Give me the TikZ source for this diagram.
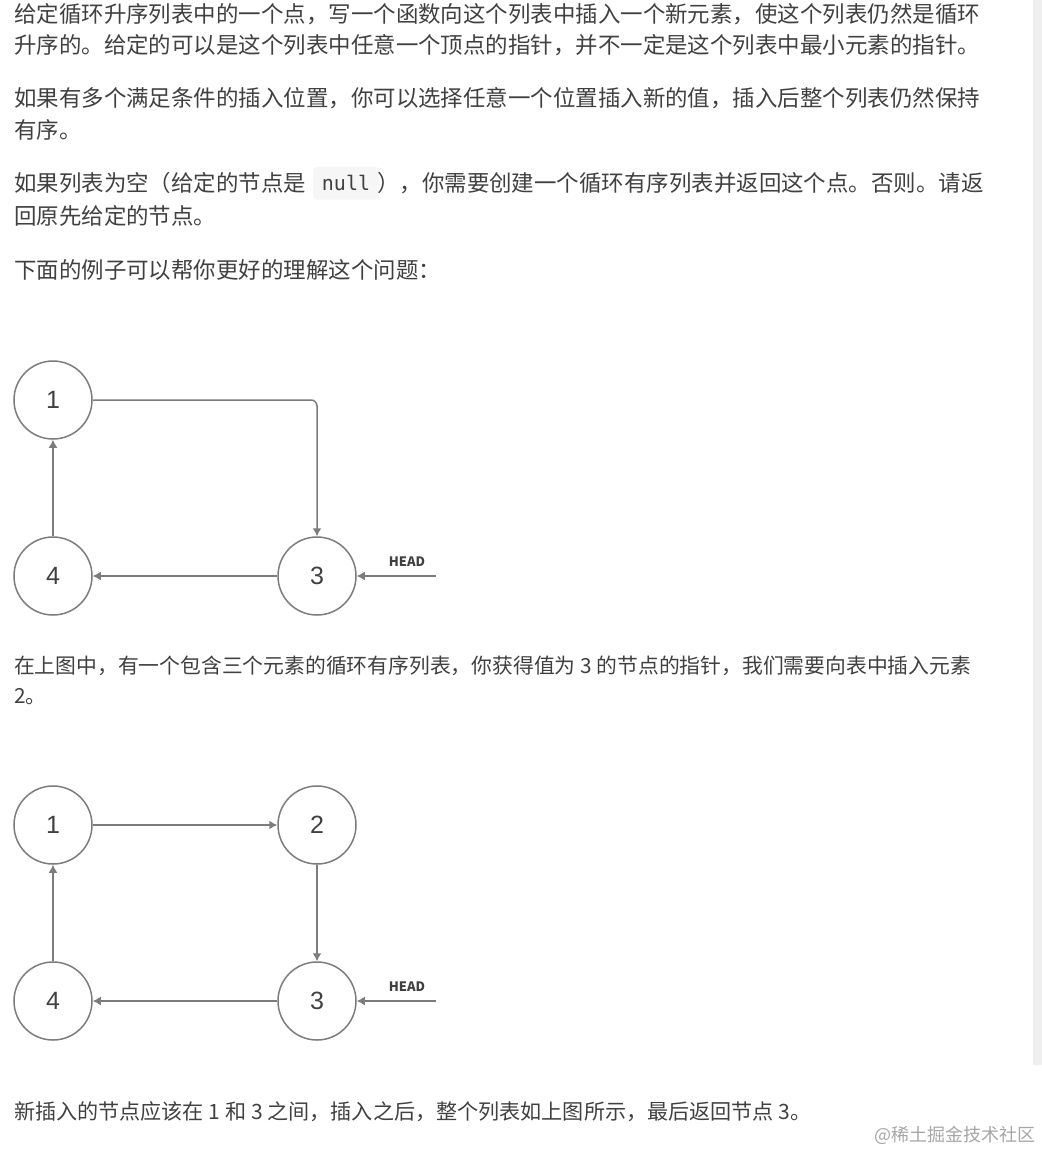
\documentclass[tikz,border=0pt]{standalone}
\usepackage{fontspec}
\setmainfont{Noto Sans CJK SC}
\setmonofont{DejaVu Sans Mono}
\newfontfamily\labelfont{Liberation Sans}
\definecolor{bodytext}{HTML}{404040}
\definecolor{linegray}{HTML}{7C7C7C}
\definecolor{codebg}{HTML}{F6F6F6}
\definecolor{barbg}{HTML}{EFEFEF}
\usetikzlibrary{arrows.meta}
\tikzset{
	para/.style={anchor=west, inner sep=0pt, text=bodytext, font=\fontsize{22.46}{26}\selectfont},
	narrowpara/.style={para, font=\fontsize{#1}{26}\selectfont},
	listnode/.style={circle, draw=linegray, line width=1.5pt, minimum size=78pt, inner sep=0pt, text=bodytext, font=\labelfont\fontsize{25}{28}\selectfont},
	link/.style={-{Latex[length=8pt,width=9pt]}, draw=linegray, line width=1.5pt},
	headlabel/.style={inner sep=0pt, text=bodytext, font=\fontsize{13}{15}\selectfont\bfseries},
}
\begin{document}
\begin{tikzpicture}[x=1pt, y=-1pt]
	
	\useasboundingbox (0,0) rectangle (1042,1152);
	\fill[barbg] (1033,0) rectangle (1042,1065);
	
	\node[para] (p1a) at (14,14) {给定循环升序列表中的一个点，写一个函数向这个列表中插入一个新元素，使这个列表仍然是循环};
	\node[para] (p1b) at (14,45) {升序的。给定的可以是这个列表中任意一个顶点的指针，并不一定是这个列表中最小元素的指针。};
	\node[para] (p2a) at (14,98) {如果有多个满足条件的插入位置，你可以选择任意一个位置插入新的值，插入后整个列表仍然保持};
	\node[para] (p2b) at (14,130) {有序。};
	\node[para] (p3a) at (14,183) {如果列表为空（给定的节点是};
	\node[fill=codebg, rounded corners=4pt, minimum width=66pt, minimum height=33pt, inner sep=0pt, text=bodytext, font=\fontsize{20}{24}\ttfamily] (nullcode) at (346,183) {null};
	\node[para] (p3b) at (377,183) {），你需要创建一个循环有序列表并返回这个点。否则。请返};
	\node[para] (p3c) at (14,216) {回原先给定的节点。};
	\node[para] (p4) at (14,270) {下面的例子可以帮你更好的理解这个问题：};
	
	% first list
	\node[listnode] (a1) at (53,400) {1};
	\node[listnode] (a3) at (317,576) {3};
	\node[listnode] (a4) at (53,576) {4};
	\coordinate (ahead) at (436,576);
	\node[headlabel] (ahl) at (407,562) {HEAD};
	\draw[link, rounded corners=6pt] (a1.east) -| (a3.north);
	\draw[link] (a3) -- (a4);
	\draw[link] (a4) -- (a1);
	\draw[link] (ahead) -- (a3);
	
	\node[narrowpara=20.8] (p5a) at (14,666) {在上图中，有一个包含三个元素的循环有序列表，你获得值为 3 的节点的指针，我们需要向表中插入元素};
	\node[narrowpara=20.8] (p5b) at (14,697) {2。};
	
	% second list
	\node[listnode] (b1) at (53,825) {1};
	\node[listnode] (b2) at (317,825) {2};
	\node[listnode] (b3) at (317,1001) {3};
	\node[listnode] (b4) at (53,1001) {4};
	\coordinate (bhead) at (436,1001);
	\node[headlabel] (bhl) at (407,987) {HEAD};
	\draw[link] (b1) -- (b2);
	\draw[link] (b2) -- (b3);
	\draw[link] (b3) -- (b4);
	\draw[link] (b4) -- (b1);
	\draw[link] (bhead) -- (b3);
	
	\node[narrowpara=21.1] (p6) at (14,1112) {新插入的节点应该在 1 和 3 之间，插入之后，整个列表如上图所示，最后返回节点 3。};
	\node[anchor=east, inner sep=0pt, text=black!35, font=\fontsize{18}{22}\selectfont] (mark) at (1036,1135) {@稀土掘金技术社区};
	
\end{tikzpicture}
\end{document}
